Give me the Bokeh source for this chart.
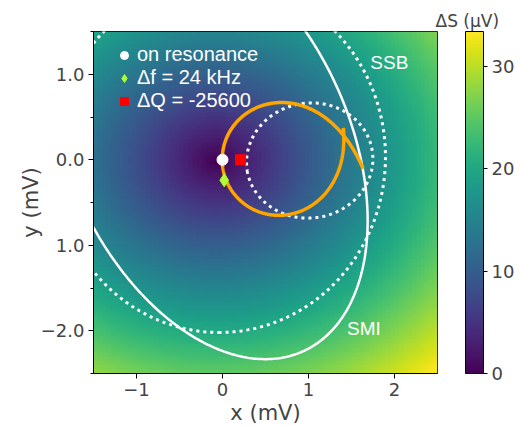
import numpy as np
from bokeh.plotting import figure
from bokeh.models import (LinearColorMapper, ColorBar, FixedTicker, Legend, LegendItem,
                          Range1d, Title)
from bokeh.palettes import Viridis256
from bokeh.embed import file_html
from bokeh.resources import INLINE
from bokeh.core.properties import value

# ---------------- data ----------------
x_range = [-1.5, 2.5]
y_range = [-2.5, 1.5]
x_ticks = [-1, 0, 1, 2]
x_tick_labels = ["\u22121", "0", "1", "2"]
y_ticks = [-2, -1, 0, 1]
y_tick_labels = ["\u22122.0", "1.0", "0.0", "1.0"]
y_minor_ticks = [-2.5, -1.5, -0.5, 0.5, 1.5]
cbar_ticks = [0, 10, 20, 30]

# heat map: ΔS grows with distance from its minimum (gradient in µV per mV along x and y)
ds_min_xy = [-0.08, 0.0]
ds_gradient_xy = [8.6, 10.0]
grid_n = 80

marker_labels = ["on resonance", "\u0394f = 24 kHz", "\u0394Q = -25600"]
marker_x = [0.0, 0.02, 0.21]
marker_y = [0.0, -0.24, 0.0]

# curves: centre, semi-axes, tilt (deg)
ssb_center = [-0.035, 0.030]
ssb_axes = [2.050, 1.930]
ssb_tilt = -90.3
smi_center = [-0.164, 0.187]
smi_axes = [2.665, 1.635]
smi_tilt = -65.6
small_center = [1.014, -0.009]
small_axes = [0.736, 0.672]
small_tilt = -170.4

# orange response loop
loop_center = [0.64, 0.0]
loop_radius = 0.64
loop_angles = [-6.0, 386.0]
loop_tail_amp = 0.18
loop_tail_angles = [20.0, 380.0]
loop_tail_scale = 37.5

text_labels = ["SSB", "SMI"]
text_x = [1.94, 1.645]
text_y = [1.14, -1.976]


def ellipse_pts(c, axes, tilt, n=500):
    t = np.linspace(0, 2 * np.pi, n)
    ph = np.radians(tilt)
    ex = axes[0] * np.cos(t)
    ey = axes[1] * np.sin(t)
    return (c[0] + ex * np.cos(ph) - ey * np.sin(ph),
            c[1] + ex * np.sin(ph) + ey * np.cos(ph))


# ---------------- figure ----------------
p = figure(frame_width=344, frame_height=342, x_range=Range1d(*x_range), y_range=Range1d(*y_range),
           output_backend="svg", toolbar_location=None,
           min_border_left=93, min_border_top=31, min_border_bottom=53, min_border_right=83)
p.grid.visible = False
p.outline_line_color = "black"

xs = np.linspace(x_range[0], x_range[1], grid_n)
ys = np.linspace(y_range[0], y_range[1], grid_n)
X, Y = np.meshgrid(xs, ys)
field = np.hypot(ds_gradient_xy[0] * (X - ds_min_xy[0]), ds_gradient_xy[1] * (Y - ds_min_xy[1]))
mapper = LinearColorMapper(palette=Viridis256, low=0, high=float(field.max()))
p.image(image=[field], x=x_range[0], y=y_range[0], dw=x_range[1] - x_range[0],
        dh=y_range[1] - y_range[0], color_mapper=mapper)

ex, ey = ellipse_pts(ssb_center, ssb_axes, ssb_tilt)
p.line(ex, ey, line_color="white", line_width=3, line_dash="3 4")
ex, ey = ellipse_pts(small_center, small_axes, small_tilt)
p.line(ex, ey, line_color="white", line_width=3, line_dash="3 4")
ex, ey = ellipse_pts(smi_center, smi_axes, smi_tilt)
p.line(ex, ey, line_color="white", line_width=2.5)

thd = np.linspace(loop_angles[0], loop_angles[1], 600)
th = np.radians(thd)
r = (loop_radius + loop_tail_amp * np.exp(-(thd - loop_tail_angles[0]) / loop_tail_scale)
     + loop_tail_amp * np.exp((thd - loop_tail_angles[1]) / loop_tail_scale))
p.line(loop_center[0] + r * np.cos(th), loop_center[1] + r * np.sin(th),
       line_color="orange", line_width=3.5)

r1 = p.scatter([marker_x[0]], [marker_y[0]], marker="circle", size=11, color="white")
r2 = p.scatter([marker_x[1]], [marker_y[1]], marker="diamond", size=13, color="#adff2f")
r3 = p.scatter([marker_x[2]], [marker_y[2]], marker="square", size=10, color="red")

p.text(x=text_x, y=text_y, text=text_labels, text_color="white",
       text_font=value("Liberation Sans"), text_font_size="19px",
       text_align="center", text_baseline="middle")

legend = Legend(items=[LegendItem(label=marker_labels[i], renderers=[rr])
                       for i, rr in enumerate([r1, r2, r3])],
                location=(21, 261), background_fill_alpha=0, border_line_alpha=0,
                label_text_color="white", label_text_font="Liberation Sans",
                label_text_font_size="20px", glyph_width=20, glyph_height=20,
                label_height=20, label_standoff=3, spacing=0, padding=0, margin=0)
p.add_layout(legend)

# axes
p.xaxis.ticker = FixedTicker(ticks=x_ticks)
p.xaxis.major_label_overrides = dict(zip(x_ticks, x_tick_labels))
p.yaxis.ticker = FixedTicker(ticks=y_ticks, minor_ticks=y_minor_ticks)
p.yaxis.major_label_overrides = dict(zip(y_ticks, y_tick_labels))
p.xaxis.axis_label = "x (mV)"
p.yaxis.axis_label = "y (mV)"
for ax in (p.xaxis[0], p.yaxis[0]):
    ax.axis_label_text_font = "DejaVu Sans"
    ax.axis_label_text_font_style = "normal"
    ax.axis_label_text_font_size = "21px"
    ax.major_label_text_font = "DejaVu Sans"
    ax.major_label_text_font_size = "18px"
    ax.major_tick_in = 0
    ax.major_tick_out = 5
    ax.minor_tick_in = 0
    ax.minor_tick_out = 3
    ax.axis_line_color = "black"
    ax.major_label_standoff = 4
p.xaxis.axis_label_standoff = 2
p.yaxis.axis_label_standoff = -5

cb = ColorBar(color_mapper=mapper, ticker=FixedTicker(ticks=cbar_ticks), width=18, height=342,
              location=(28, 0), padding=0, margin=0, major_tick_in=0, major_tick_out=4,
              major_tick_line_color="black", bar_line_color="black",
              major_label_text_font="DejaVu Sans", major_label_text_font_size="18px",
              label_standoff=4, background_fill_alpha=0, border_line_color=None)
p.add_layout(cb, "right")

p.add_layout(Title(text="\u0394S (\u00b5V)", align="left", offset=342, standoff=2,
                   text_font="DejaVu Sans", text_font_size="17px", text_font_style="normal"),
             "above")

open("out.html", "w").write(file_html(p, INLINE))
